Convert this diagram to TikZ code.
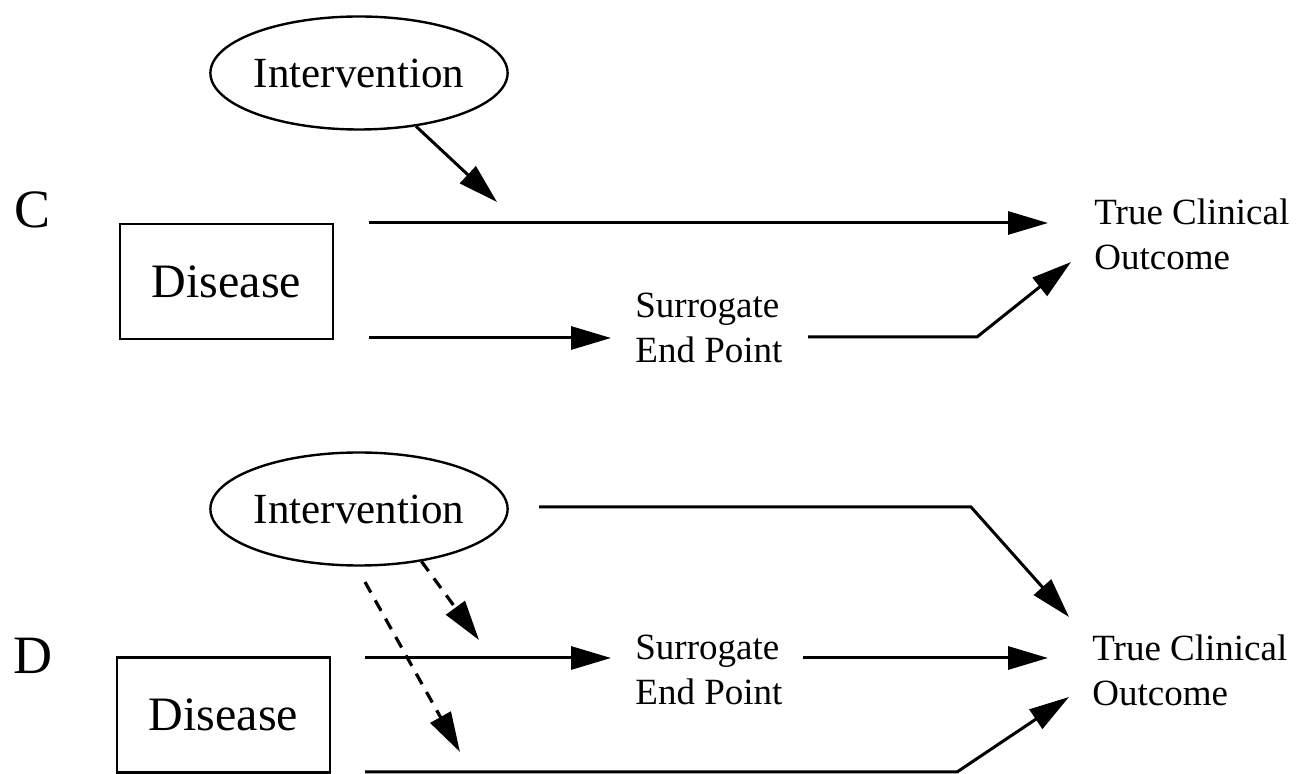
\documentclass[tikz,border=0pt]{standalone}
\usepackage{fontspec}
\setmainfont{Liberation Serif}
\usetikzlibrary{shapes.geometric,arrows.meta}
\begin{document}
\begin{tikzpicture}[x=0.5pt,y=-0.5pt,
  conn/.style={line width=1.5pt,-{Triangle[length=20pt,width=11.5pt]}},
  dashconn/.style={conn,line width=1.6pt,dash pattern=on 6pt off 4.5pt},
  ellnode/.style={ellipse,draw,line width=1.2pt,minimum width=143pt,minimum height=56.5pt,inner sep=0pt,font=\fontsize{21.5}{26}\selectfont},
  boxnode/.style={rectangle,draw,line width=1.2pt,minimum width=106.5pt,minimum height=57.5pt,inner sep=0pt,font=\fontsize{24}{28}\selectfont},
  txtnode/.style={align=left,inner sep=0pt,anchor=west,font=\fontsize{18.5}{22.5}\selectfont},
  panellabel/.style={inner sep=0pt,font=\fontsize{27}{30}\selectfont}]
\useasboundingbox[fill=white] (0,0) rectangle (1297,774);

% ---------- Panel C ----------
\node[panellabel] (labC) at (33,210) {C};
\node[ellnode] (intC) at (359,73) {Intervention};
\node[boxnode] (disC) at (226.5,281.5) {Disease};
\node[txtnode] (surC) at (635,328) {Surrogate\\End Point};
\node[txtnode] (tcoC) at (1094,234) {True Clinical\\Outcome};

\coordinate (tipC1) at (497,202);
\coordinate (sC2) at (369,223);
\coordinate (tC2) at (1048,223);
\coordinate (sC3) at (369,338);
\coordinate (tC3) at (611,338);
\coordinate (sC4) at (808,337);
\coordinate (kC4) at (977,337);
\coordinate (tC4) at (1071,262);

\draw[conn] (intC) -- (tipC1);
\draw[conn] (sC2) -- (tC2);
\draw[conn] (sC3) -- (tC3);
\draw[conn] (sC4) -- (kC4) -- (tC4);

% ---------- Panel D ----------
\node[panellabel] (labD) at (33,656) {D};
\node[ellnode] (intD) at (359,509) {Intervention};
\node[boxnode] (disD) at (223.5,715) {Disease};
\node[txtnode] (surD) at (635,670) {Surrogate\\End Point};
\node[txtnode] (tcoD) at (1092,670) {True Clinical\\Outcome};

\coordinate (sD1) at (539,507);
\coordinate (kD1) at (971,507);
\coordinate (tD1) at (1069,617);
\coordinate (tD2) at (479,640);
\coordinate (sD3) at (365,582);
\coordinate (tD3) at (460,752);
\coordinate (sD4) at (365,658);
\coordinate (tD4) at (611,658);
\coordinate (sD5) at (803,658);
\coordinate (tD5) at (1048,658);
\coordinate (sD6) at (365,772);
\coordinate (kD6) at (957,772);
\coordinate (tD6) at (1069,697);

\draw[conn] (sD1) -- (kD1) -- (tD1);
\draw[dashconn] (intD.-40) -- (tD2);
\draw[dashconn] (sD3) -- (tD3);
\draw[conn] (sD4) -- (tD4);
\draw[conn] (sD5) -- (tD5);
\draw[conn] (sD6) -- (kD6) -- (tD6);
\end{tikzpicture}
\end{document}
